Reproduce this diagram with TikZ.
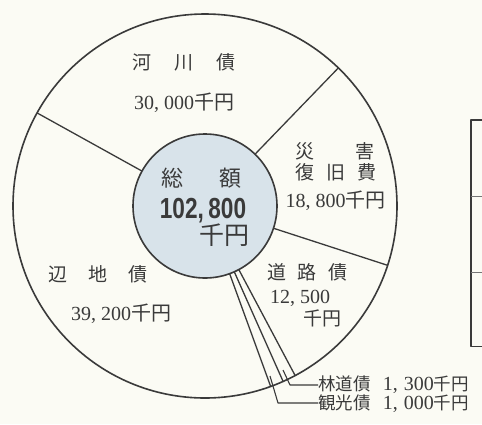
\documentclass[tikz,border=0pt]{standalone}
\usepackage{fontspec}
\setmainfont{Liberation Serif}
\newfontfamily\jp{Noto Sans CJK JP}
\newfontfamily\bignum{Liberation Sans}
\usetikzlibrary{calc}
\definecolor{bg}{HTML}{FBFBF4}
\definecolor{ink}{HTML}{3A3A3A}
\definecolor{hubfill}{HTML}{D8E3EA}
\newcommand\J[1]{{\jp #1}}
\newcommand\numfont{\fontsize{20}{22}\selectfont}
\begin{document}
\begin{tikzpicture}[x=1pt,y=-1pt,line join=round,
  lab/.style={text=ink,inner sep=0pt,font=\fontsize{19}{21}\selectfont},
  leg/.style={text=ink,inner sep=0pt,anchor=west,font=\fontsize{17.5}{19}\selectfont},
  seg/.style={draw=ink,line width=1.3pt},
  ring/.style={circle,draw=ink,line width=1.6pt,inner sep=0pt,outer sep=0pt}]
\path[fill=bg] (0,0) rectangle (482,424);
\useasboundingbox (0,0) rectangle (482,424);
\coordinate (O) at (205,206);
\node[ring,minimum size=384pt] (outer) at (O) {};
\node[ring,fill=hubfill,minimum size=144pt] (hub) at (O) {};
% sector boundaries
\foreach \a in {151.5,46.9,-18.5,-62.2,-66.7,-70.3}
  \draw[seg] (hub.\a) -- (outer.\a);
% labels
\node[lab] (kasen) at (184,62) {\J{河\hspace{23pt}川\hspace{23pt}債}};
\node[lab] (kasenv) at (184,103) {\numfont 30,\hspace{0.25em}000\J{千円}};
\node[lab] (sai1) at (335,151) {\J{災\hspace{42pt}害}};
\node[lab] (sai2) at (336,172.5) {\J{復\hspace{12pt}旧\hspace{12pt}費}};
\node[lab] (saiv) at (335.5,201) {\numfont 18,\hspace{0.25em}800\J{千円}};
\node[lab] (doro) at (307.5,272.5) {\J{道\hspace{12pt}路\hspace{12pt}債}};
\node[lab] (dorov) at (300,298) {\numfont 12,\hspace{0.25em}500};
\node[lab] (doroy) at (322,318) {\J{千円}};
\node[lab] (hench) at (98,274) {\J{辺\hspace{21pt}地\hspace{21pt}債}};
\node[lab] (henchv) at (121,314) {\numfont 39,\hspace{0.25em}200\J{千円}};
% center
\node[lab,font=\fontsize{22}{24}\selectfont] (sog) at (201.5,178) {\J{総\hspace{37pt}額}};
\node[lab] (sogv) at (203,211) {\scalebox{0.78}[1]{\bignum\bfseries\fontsize{29}{30}\selectfont 102,\hspace{0.2em}800}};
\node[lab,font=\fontsize{25}{27}\selectfont] (sogy) at (224,235) {\J{千円}};
% small sectors with leaders
\node[leg] (rin) at (318,385) {\J{林道債}\hspace{0.7em}{\numfont 1,\hspace{0.3em}300}\J{千円}};
\node[leg] (kan) at (318,404) {\J{観光債}\hspace{0.7em}{\numfont 1,\hspace{0.3em}000}\J{千円}};
\coordinate (rinS) at (283,370);
\coordinate (rinC) at (290,385);
\coordinate (kanS) at (270,376);
\coordinate (kanC) at (278,403);
\draw[ink,line width=1.1pt] (rinS) -- (rinC) -- (rinC -| rin.west);
\draw[ink,line width=1.1pt] (kanS) -- (kanC) -- (kanC -| kan.west);
% partial box at right edge
\draw[ink,line width=1.3pt] (482,120) -| (471,346.5) -- (482,346.5);
\draw[ink!70,line width=0.8pt] (471,196) -- (482,196);
\draw[ink!70,line width=0.8pt] (471,272.7) -- (482,272.7);
\end{tikzpicture}
\end{document}
